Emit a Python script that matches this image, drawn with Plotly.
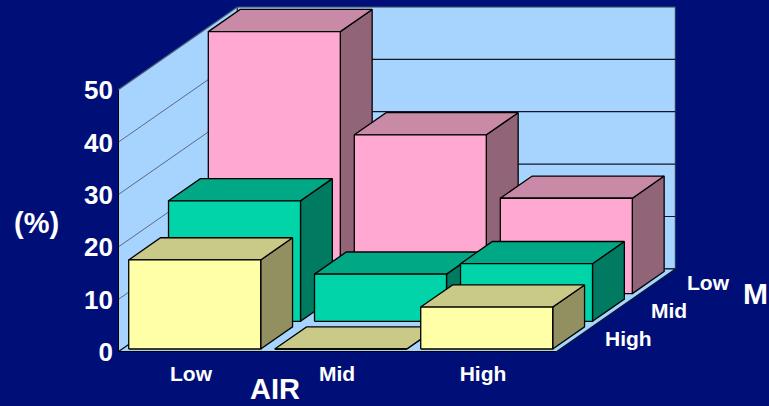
import plotly.graph_objects as go

# Chart values
air_levels = ["Low", "Mid", "High"]
m_levels = ["High", "Mid", "Low"]  # front row to back row
m_high = [17, 0, 8]
m_mid = [23, 9, 11]
m_low = [50, 30.3, 18.2]
value_ticks = [0, 10, 20, 30, 40, 50]

# Colours for each row: front, top and side faces
row_styles = [
    ("#ffffa8", "#c9c988", "#929060"),
    ("#00d4a8", "#00a885", "#007a60"),
    ("#ffa8d1", "#c98aa8", "#926478"),
]
NAVY = "#000f78"
WALL = "#a6d4ff"

# Oblique projection: one depth unit shifts a point right and up
DX, DY = 0.2726, 5.286
GAP, WIDTH = 0.044, 0.904
D0, DEPTH = 0.108, 0.80
FONT = "Liberation Sans"


def project(x, v, d):
    return x + d * DX, v + d * DY


def polygon(points, fill=None, line="black", width=1.3):
    xs, ys = zip(*[project(*p) for p in points + points[:1]])
    return go.Scatter(
        x=xs, y=ys, mode="lines", fill="toself" if fill else "none",
        fillcolor=fill, line=dict(color=line, width=width),
        hoverinfo="skip", showlegend=False, cliponaxis=False,
    )


def segment(a, b, color, width):
    xs, ys = zip(project(*a), project(*b))
    return go.Scatter(
        x=xs, y=ys, mode="lines", line=dict(color=color, width=width),
        hoverinfo="skip", showlegend=False, cliponaxis=False,
    )


fig = go.Figure()
n = len(air_levels)
rows = len(m_levels)
top = max(value_ticks)

# Walls and floor
fig.add_trace(polygon([(0, 0, 0), (0, 0, rows), (0, top, rows), (0, top, 0)], WALL, "#4a5f78", 1.2))
fig.add_trace(polygon([(0, 0, rows), (n, 0, rows), (n, top, rows), (0, top, rows)], WALL, "#2a3a58", 1.2))
for tick in value_ticks[1:-1]:
    fig.add_trace(segment((0, tick, 0), (0, tick, rows), "#5a6a80", 1))
    fig.add_trace(segment((0, tick, rows), (n, tick, rows), "#101828", 1.2))
fig.add_trace(polygon([(0, 0, 0), (n, 0, 0), (n, 0, rows), (0, 0, rows)], WALL, "#101828", 1.2))
fig.add_trace(segment((0, 0, 0), (0, top, 0), "black", 2))
fig.add_trace(segment((0, 0, 0), (n, 0, 0), "black", 2.2))

# Bars, back row first and left to right within a row
for r in reversed(range(rows)):
    values = [m_high, m_mid, m_low][r]
    front, upper, side = row_styles[r]
    for i, v in enumerate(values):
        x0, x1 = i + GAP, i + GAP + WIDTH
        d0, d1 = r + D0, r + D0 + DEPTH
        fig.add_trace(polygon([(x1, 0, d0), (x1, 0, d1), (x1, v, d1), (x1, v, d0)], side))
        fig.add_trace(polygon([(x0, v, d0), (x1, v, d0), (x1, v, d1), (x0, v, d1)], upper))
        fig.add_trace(polygon([(x0, 0, d0), (x1, 0, d0), (x1, v, d0), (x0, v, d0)], front))

white = dict(family=FONT, color="white", weight="bold")
annotations = [
    dict(x=project(n, 0, r + 0.5)[0], y=project(n, 0, r + 0.5)[1], text=f"<b>{name}</b>",
         xshift=53, showarrow=False, font=dict(white, size=21), xanchor="center", yanchor="middle")
    for r, name in enumerate(m_levels)
]
annotations += [
    dict(xref="paper", yref="paper", x=36 / 769, y=1 - 223 / 406, text="<b>(%)</b>",
         showarrow=False, font=dict(white, size=29), xanchor="center", yanchor="middle"),
    dict(xref="paper", yref="paper", x=275 / 769, y=1 - 389 / 406, text="<b>AIR</b>",
         showarrow=False, font=dict(white, size=29), xanchor="center", yanchor="middle", borderpad=0),
    dict(xref="paper", yref="paper", x=741 / 769, y=1 - 293 / 406, text="<b>M</b>",
         showarrow=False, font=dict(white, size=30), xanchor="left", yanchor="middle"),
]

fig.update_layout(
    width=769, height=406, margin=dict(l=0, r=0, t=0, b=0),
    paper_bgcolor=NAVY, plot_bgcolor=NAVY, showlegend=False,
    annotations=annotations,
    xaxis=dict(
        domain=[118 / 769, 1], range=[0, 651 / 146], showgrid=False, zeroline=False,
        tickmode="array", tickvals=[i + 0.5 for i in range(n)], ticktext=air_levels,
        ticks="", ticklabelstandoff=7, tickfont=dict(white, size=21), fixedrange=True,
        automargin=False,
    ),
    yaxis=dict(
        domain=[54 / 406, 1], range=[0, 352 / 5.24], showgrid=False, zeroline=False,
        tickmode="array", tickvals=value_ticks, ticks="", ticklabelstandoff=4,
        tickfont=dict(white, size=26), fixedrange=True, automargin=False,
    ),
)

fig.write_html("out.html", config=dict(displayModeBar=False))
